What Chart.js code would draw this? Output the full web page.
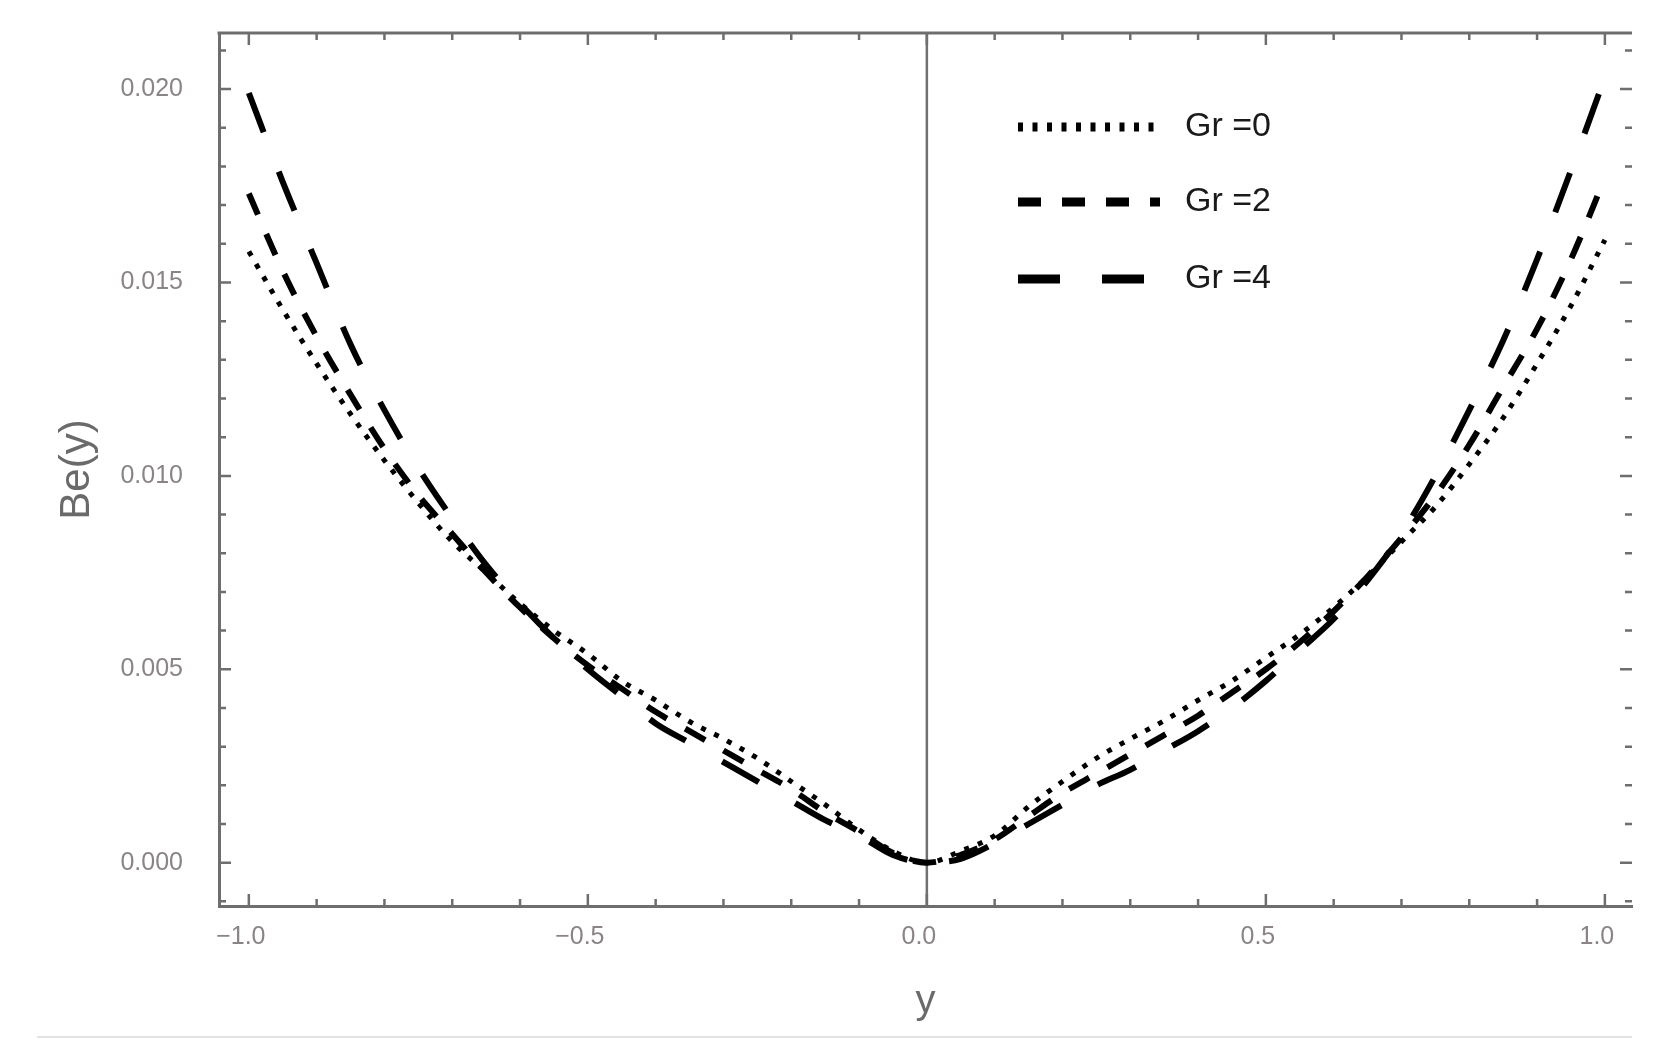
<!DOCTYPE html>
<html><head><meta charset="utf-8">
<script src="https://cdn.jsdelivr.net/npm/chart.js@4.4.1/dist/chart.umd.min.js"></script>
<style>html,body{margin:0;padding:0;background:#fff;}canvas{display:block;}</style>
</head><body>
<canvas id="c" width="1664" height="1064"></canvas>
<script>
// ---- data ----
const xPoints = [-1.00,-0.95,-0.90,-0.85,-0.80,-0.75,-0.70,-0.65,-0.60,-0.55,-0.50,-0.45,-0.40,-0.35,-0.30,-0.25,-0.20,-0.15,-0.10,-0.05,
                 0.00,0.05,0.10,0.15,0.20,0.25,0.30,0.35,0.40,0.45,0.50,0.55,0.60,0.65,0.70,0.75,0.80,0.85,0.90,0.95,1.00];
const beGr0 = [0.0158,0.0143,0.0129,0.0116,0.0104,0.0093,0.0083,0.0075,0.0067,0.0060,0.0054,0.0047,0.0042,0.00365,0.0032,0.0027,0.0021,0.0015,0.00085,0.0003,
               0.0000,0.0003,0.0007,0.00145,0.0021,0.0027,0.0032,0.00367,0.0042,0.0047,0.0053,0.0059,0.0066,0.0074,0.0083,0.0092,0.0103,0.0115,0.0129,0.0144,0.0161];
const beGr2 = [0.0173,0.0153,0.0136,0.0121,0.0107,0.0095,0.0085,0.0075,0.0066,0.0058,0.0051,0.0045,0.0039,0.0034,0.0029,0.0024,0.0019,0.0013,0.0008,0.00025,
               0.0000,0.0002,0.0006,0.0012,0.0018,0.0023,0.0028,0.0033,0.0038,0.0044,0.0050,0.0057,0.0065,0.0074,0.0084,0.0095,0.0108,0.0123,0.0138,0.0156,0.0177];
const beGr4 = [0.0199,0.0176,0.0155,0.0134,0.0117,0.0102,0.0089,0.0077,0.0067,0.0058,0.0050,0.0043,0.0036,0.0031,0.0026,0.0021,0.0016,0.0011,0.0007,0.0002,
               0.0000,0.0001,0.0005,0.0010,0.0015,0.0020,0.0024,0.0029,0.0034,0.0040,0.0047,0.0055,0.0063,0.0073,0.0085,0.0100,0.0117,0.0135,0.0156,0.0179,0.0203];
const seriesLabels = ['Gr =0','Gr =2','Gr =4'];

const xMajorTicks = [-1.0,-0.5,0.0,0.5,1.0];
const xTickLabels = ['\u22121.0','\u22120.5','0.0','0.5','1.0'];
const xMinorTicks = [-0.9,-0.8,-0.7,-0.6,-0.4,-0.3,-0.2,-0.1,0.1,0.2,0.3,0.4,0.6,0.7,0.8,0.9];
const yMajorTicks = [0.000,0.005,0.010,0.015,0.020];
const yTickLabels = ['0.000','0.005','0.010','0.015','0.020'];
const yMinorTicks = [-0.001,0.001,0.002,0.003,0.004,0.006,0.007,0.008,0.009,0.011,0.012,0.013,0.014,0.016,0.017,0.018,0.019,0.021];
const xTitle = 'y';
const yTitle = 'Be(y)';

// ---- styles ----
const seriesData = [beGr0, beGr2, beGr4];
const seriesDash = [[5,9.5],[23,21],[42,42]];
const seriesWidth = [5,6,6];
const frameColor = '#6e6e6e';
const tickFont = {family:'"Liberation Sans", Arial, sans-serif', size:25};

const datasets = seriesData.map((arr,i)=>({
  label: seriesLabels[i],
  data: xPoints.map((xv,j)=>({x:xv, y:arr[j]})),
  borderColor:'#000',
  borderWidth: seriesWidth[i],
  borderDash: seriesDash[i],
  borderCapStyle:'butt',
  pointRadius:0,
  fill:false,
  cubicInterpolationMode:'monotone'
}));

const framePlugin = {
  id:'frame',
  beforeDatasetsDraw(chart){
    const {ctx, chartArea:a, scales:{x}} = chart;
    const x0 = x.getPixelForValue(0);
    ctx.save();
    ctx.strokeStyle = '#707070'; ctx.lineWidth = 2.5;
    ctx.beginPath(); ctx.moveTo(x0,a.top); ctx.lineTo(x0,a.bottom); ctx.stroke();
    ctx.restore();
  },
  afterDraw(chart){
    const {ctx, chartArea:a, scales:{x,y}} = chart;
    ctx.save();
    // top frame line
    ctx.strokeStyle = frameColor; ctx.lineWidth = 3;
    ctx.beginPath(); ctx.moveTo(a.left-1.5,a.top); ctx.lineTo(a.right,a.top); ctx.stroke();
    // ticks
    ctx.lineWidth = 2.5;
    const drawX = (v,len)=>{
      const p = x.getPixelForValue(v);
      ctx.beginPath(); ctx.moveTo(p,a.bottom); ctx.lineTo(p,a.bottom-len);
      ctx.moveTo(p,a.top); ctx.lineTo(p,a.top+len); ctx.stroke();
    };
    const drawY = (v,len)=>{
      const p = y.getPixelForValue(v);
      ctx.beginPath(); ctx.moveTo(a.left,p); ctx.lineTo(a.left+len,p);
      ctx.moveTo(a.right,p); ctx.lineTo(a.right-len,p); ctx.stroke();
    };
    xMajorTicks.forEach(v=>drawX(v,12));
    xMinorTicks.forEach(v=>drawX(v,7));
    yMajorTicks.forEach(v=>drawY(v,12));
    yMinorTicks.forEach(v=>drawY(v,7));
    // legend
    const lx1 = 1018, lx2 = 1160, ly = [127,202,279];
    chart.data.datasets.forEach((ds,i)=>{
      ctx.strokeStyle = '#000'; ctx.lineWidth = 9; ctx.lineCap='butt';
      ctx.setLineDash(ds.borderDash);
      ctx.beginPath(); ctx.moveTo(lx1,ly[i]); ctx.lineTo(lx2,ly[i]); ctx.stroke();
      ctx.setLineDash([]);
      ctx.fillStyle = '#1a1a1a';
      ctx.font = '34px "Liberation Sans", Arial, sans-serif';
      ctx.textBaseline = 'middle'; ctx.textAlign='left';
      ctx.fillText(ds.label, 1185, ly[i]);
    });
    // light separator below the figure
    ctx.strokeStyle = '#e3e3e3'; ctx.lineWidth = 2;
    ctx.beginPath(); ctx.moveTo(37,1037); ctx.lineTo(1632,1037); ctx.stroke();
    ctx.restore();
  }
};

new Chart(document.getElementById('c'), {
  type:'line',
  data:{datasets},
  plugins:[framePlugin],
  options:{
    responsive:false,
    animation:false,
    devicePixelRatio:1,
    layout:{padding:{left:0,top:33,right:32,bottom:0}},
    plugins:{legend:{display:false}, tooltip:{enabled:false}},
    scales:{
      x:{
        type:'linear', position:'bottom', min:-1.044, max:1.040,
        afterFit(s){ s.height = 158; s.paddingLeft = 0; s.paddingRight = 0; },
        afterBuildTicks(s){ s.ticks = xMajorTicks.map(v=>({value:v})); },
        grid:{display:false, drawTicks:false},
        border:{display:true, color:frameColor, width:3},
        ticks:{autoSkip:false, maxRotation:0, padding:16, labelOffset:-8,
               color:'#8a8486', font:tickFont,
               callback:(v)=>{const i = xMajorTicks.indexOf(v); return i>=0 ? xTickLabels[i] : '';}},
        title:{display:true, text:xTitle, color:'#6a6a6a',
               font:{family:'"Liberation Sans", Arial, sans-serif', size:40},
               padding:{top:0,bottom:38}}
      },
      y:{
        type:'linear', position:'left', min:-0.00112, max:0.02145,
        afterFit(s){ s.width = 219; s.paddingTop = 0; s.paddingBottom = 0; },
        afterBuildTicks(s){ s.ticks = yMajorTicks.map(v=>({value:v})); },
        grid:{display:false, drawTicks:false},
        border:{display:true, color:frameColor, width:3},
        ticks:{autoSkip:false, padding:36, color:'#8a8486', font:tickFont,
               callback:(v)=>{const i = yMajorTicks.findIndex(t=>Math.abs(t-v)<1e-9); return i>=0 ? yTickLabels[i] : '';}},
        title:{display:true, text:yTitle, color:'#6a6a6a',
               font:{family:'"Liberation Sans", Arial, sans-serif', size:42},
               padding:{top:52,bottom:0}}
      }
    }
  }
});
</script>
</body></html>
